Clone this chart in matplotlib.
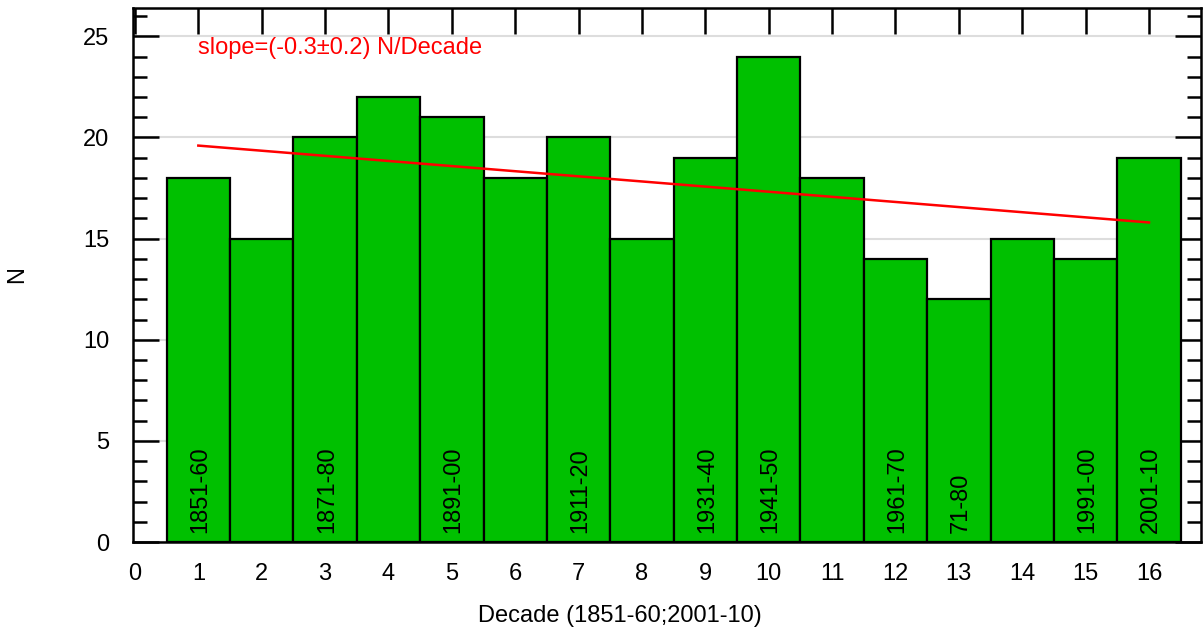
import matplotlib
matplotlib.use("Agg")
import matplotlib.pyplot as plt
import numpy as np
from matplotlib.ticker import MultipleLocator

plt.rcParams["font.family"] = ["Liberation Sans", "DejaVu Sans"]

decade_idx = list(range(1, 17))
counts = [18, 15, 20, 22, 21, 18, 20, 15, 19, 24, 18, 14, 12, 15, 14, 19]
bar_labels = {
    1: "1851-60", 3: "1871-80", 5: "1891-00", 7: "1911-20", 9: "1931-40",
    10: "1941-50", 12: "1961-70", 13: "71-80", 15: "1991-00", 16: "2001-10",
}
trend_x = [1, 16]
trend_y = [19.6, 15.8]
slope_text = "slope=(-0.3\u00b10.2) N/Decade"

fig = plt.figure(figsize=(12.03, 6.37), dpi=100)
ax = fig.add_axes([0.1106, 0.149, 0.8877, 0.8384])

ax.bar(decade_idx, counts, width=1.0, color="#00c000", edgecolor="black",
       linewidth=1.6, zorder=3)
ax.plot(trend_x, trend_y, color="red", linewidth=1.8, zorder=4)

for i, lab in bar_labels.items():
    ax.text(i + 0.03, 0.45, lab, rotation=90, ha="center", va="bottom",
            fontsize=17, zorder=5)

ax.text(1.0, 24.4, slope_text, color="red", fontsize=17, ha="left",
        va="center", zorder=5)

ax.set_xlim(-0.03, 16.82)
ax.set_ylim(0, 26.4)
ax.xaxis.set_major_locator(MultipleLocator(1))
ax.yaxis.set_major_locator(MultipleLocator(5))
ax.yaxis.set_minor_locator(MultipleLocator(1))
ax.yaxis.grid(True, which="major", color="#dddddd", linewidth=1.5, zorder=0)
ax.set_axisbelow(True)

ax.tick_params(axis="x", which="major", direction="in", length=19, width=1.8,
               top=True, bottom=False, labelbottom=True, labelsize=17, pad=15)
ax.tick_params(axis="y", which="major", direction="in", length=19, width=1.8,
               left=True, right=True, labelsize=17, pad=17)
ax.tick_params(axis="y", which="minor", direction="in", length=10, width=1.8,
               left=True, right=True)
for sp in ax.spines.values():
    sp.set_linewidth(1.8)
    sp.set_zorder(6)

# no top tick at x=0, it sits on the left spine
ax.xaxis.get_major_ticks()[0].tick2line.set_visible(False)

ax.set_xlabel("Decade (1851-60;2001-10)", fontsize=17, labelpad=14)
ax.xaxis.set_label_coords(0.456, -0.118)
ax.set_ylabel("N", fontsize=17, labelpad=40)

fig.savefig("out.png", dpi=100)
plt.close(fig)
